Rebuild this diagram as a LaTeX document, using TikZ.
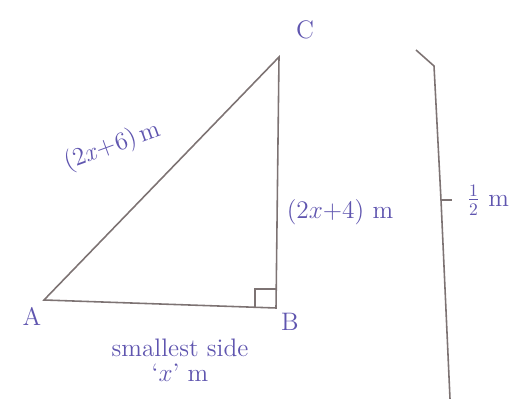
\documentclass[tikz,border=0pt]{standalone}
\usepackage{amsmath}
\usepackage{tikz}
\usetikzlibrary{positioning, calc}
\definecolor{penblue}{RGB}{95, 85, 175}
\definecolor{pencil}{RGB}{125, 115, 115}

\begin{document}
\begin{tikzpicture}[font=\Large, line width=0.9pt]
  \useasboundingbox (0,0) rectangle (10.6,7.98);
  \tikzset{lbl/.style={text=penblue, inner sep=1pt}}
  % Triangle corners
  \coordinate (A) at (0.88,1.98);
  \coordinate (B) at (5.52,1.82);
  \coordinate (C) at (5.58,6.84);
  \draw[pencil] (A) -- (B) -- (C) -- cycle;
  % Right angle mark
  \draw[pencil] ($(B)+(-0.42,0)$) -- ($(B)+(-0.42,0.38)$) -- ($(B)+(0,0.38)$);
  % Corner labels
  \node[lbl] (la) at (0.64,1.66) {A};
  \node[lbl] (lb) at (5.8,1.54) {B};
  \node[lbl] (lc) at (6.1,7.38) {C};
  % Side labels
  \node[lbl, rotate=20] (hyp) at (2.25,5.05) {(2\textit{x}+6)\,m};
  \node[lbl] (side) at (6.8,3.74) {$(2x{+}4)$ m};
  \node[lbl] (base1) at (3.6,1.02) {smallest side};
  \node[lbl, below=1pt of base1] (base2) {`$x$' m};
  % Brace
  \coordinate (bt) at (8.32,6.98);
  \coordinate (bk) at (8.68,6.66);
  \coordinate (bm) at (8.82,3.98);
  \coordinate (bx) at (9.04,3.98);
  \coordinate (bb) at (9.0,0);
  \draw[pencil] (bt) -- (bk) -- (bm) -- (bb);
  \draw[pencil] (bm) -- (bx);
  \node[lbl, right=0.25 of bx] (half) {$\tfrac{1}{2}$ m};
\end{tikzpicture}
\end{document}
